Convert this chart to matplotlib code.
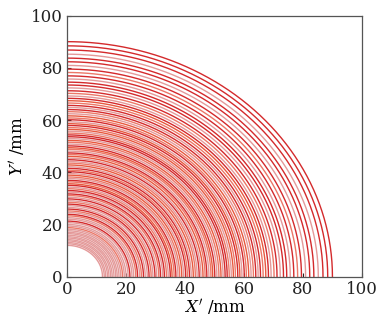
import numpy as np
import matplotlib
matplotlib.use("Agg")
import matplotlib.pyplot as plt

# radii of the quarter arcs (mm)
radii = [12.0, 12.6, 13.1, 13.7, 14.2, 14.8, 15.3, 15.9, 16.5, 17.0,
         17.6, 18.2, 18.8, 19.4, 20.0, 20.7, 21.3, 22.0, 22.6, 23.3,
         23.9, 24.6, 25.2, 25.9, 26.5, 27.2, 27.8, 28.5, 29.1, 29.8,
         30.4, 31.1, 31.7, 32.4, 33.0, 33.7, 34.3, 35.0, 35.6, 36.3,
         36.9, 37.6, 38.2, 38.9, 39.5, 40.2, 40.8, 41.5, 42.1, 42.8,
         43.5, 44.1, 44.8, 45.4, 46.1, 46.8, 47.4, 48.1, 48.8, 49.4,
         50.1, 50.8, 51.5, 52.2, 52.9, 53.6, 54.3, 55.0, 55.7, 56.4,
         57.1, 57.9, 58.6, 59.3, 60.1, 60.8, 61.6, 62.4, 63.2, 64.0,
         64.8, 65.6, 66.5, 67.4, 68.3, 69.2, 70.2, 71.2, 72.3, 73.4,
         74.5, 75.7, 76.9, 78.2, 79.5, 80.9, 82.3, 83.7, 85.2, 86.8, 88.4, 90.0]

# shade of each arc: p = pink, s = salmon, o = orange red, r = red
shades = ("pppppppppp" "ppsppprpps" "rpsrpprspr" "psrprspros" "rpsoprsrpo"
          "sprposrpso" "rpsoprrspo" "sroprsopsr" "prsorpsrpr" "rprsrprrprrr")
palette = {"p": "#e49a9a", "s": "#ec7868", "o": "#e8583e", "r": "#d42a2c"}

xticks = [0, 20, 40, 60, 80, 100]
yticks = [0, 20, 40, 60, 80, 100]

plt.rcParams['font.family'] = 'DejaVu Serif'
plt.rcParams['mathtext.fontset'] = 'dejavuserif'

fig = plt.figure(figsize=(3.77, 3.24), dpi=100)
ax = fig.add_axes([0.178, 0.146, 0.782, 0.806])

t = np.linspace(0, np.pi / 2, 200)
for r, s in zip(radii, shades):
    ax.plot(r * np.cos(t), r * np.sin(t), color=palette[s], lw=1.0)

ax.set_xlim(0, 100)
ax.set_ylim(0, 100)
ax.set_xticks(xticks)
ax.set_yticks(yticks)
ax.tick_params(direction='in', length=3, labelsize=12, colors='#222222', pad=3)
for sp in ax.spines.values():
    sp.set_color('#555555')
    sp.set_linewidth(0.9)
ax.set_xlabel(r"$X'$ /mm", fontsize=12, labelpad=0)
ax.set_ylabel(r"$Y'$ /mm", fontsize=12, labelpad=2)

fig.savefig("out.png", dpi=100)
